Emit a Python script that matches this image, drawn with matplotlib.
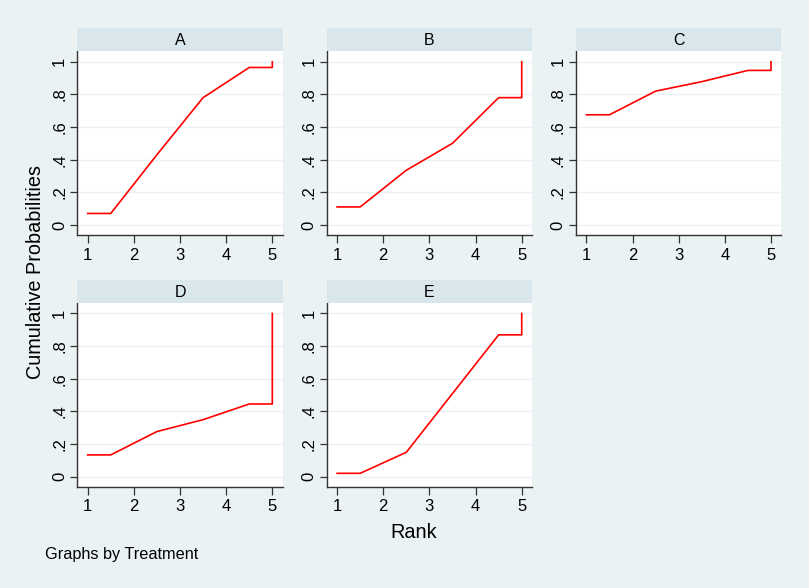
import numpy as np
import matplotlib.pyplot as plt

plt.rcParams['font.family'] = ['Liberation Sans', 'DejaVu Sans']

treatments = ['A', 'B', 'C', 'D', 'E']
ranks = [1, 2, 3, 4, 5]
# cumulative probability of being ranked within the top k
cum_A = [0.07, 0.43, 0.78, 0.965, 1.0]
cum_B = [0.11, 0.335, 0.50, 0.78, 1.0]
cum_C = [0.675, 0.82, 0.878, 0.947, 1.0]
cum_D = [0.133, 0.276, 0.349, 0.445, 1.0]
cum_E = [0.02, 0.149, 0.509, 0.869, 1.0]
series = [cum_A, cum_B, cum_C, cum_D, cum_E]
yticks = [0, 0.2, 0.4, 0.6, 0.8, 1.0]
ytick_labels = ['0', '.2', '.4', '.6', '.8', '1']

bg = '#eaf2f3'
strip_col = '#d9e6eb'
W, H = 809, 588

fig = plt.figure(figsize=(W / 100, H / 100), dpi=100, facecolor=bg)

lefts = [77.3, 326.7, 576.0]
tops = [51.0, 302.7]
pw, ph, sh = 205.4, 184.0, 23.0


def stepped(r, c):
    # Stata-style curve: flat to first midpoint, through midpoints, flat, then jump at last rank
    mids = [(r[i] + r[i + 1]) / 2 for i in range(len(r) - 1)]
    xs = [r[0]] + mids + [r[-1], r[-1]]
    ys = [c[0]] + c[:-1] + [c[-2], c[-1]]
    return xs, ys


for i, (name, cum) in enumerate(zip(treatments, series)):
    row, col = divmod(i, 3)
    x0 = lefts[col] / W
    y0 = (H - tops[row] - ph) / H
    ax = fig.add_axes((x0, y0, pw / W, ph / H))
    ax.set_facecolor('white')
    xs, ys = stepped(ranks, cum)
    ax.plot(xs, ys, color='#ff0000', lw=1.2, zorder=3)
    ax.set_xlim(0.775, 5.225)
    ax.set_ylim(-0.062, 1.066)
    ax.set_xticks(ranks)
    ax.set_yticks(yticks)
    ax.set_yticklabels(ytick_labels, rotation=90, va='center')
    ax.grid(axis='y', color=bg, lw=1.0)
    ax.set_axisbelow(True)
    for s in ['top', 'right']:
        ax.spines[s].set_visible(False)
    for s in ['left', 'bottom']:
        ax.spines[s].set_color('#333333')
        ax.spines[s].set_linewidth(1.0)
    ax.tick_params(axis='y', length=4.8, width=0.9, color='#333333', pad=2.5, labelsize=12)
    ax.tick_params(axis='x', length=5.5, width=0.9, color='#333333', pad=3.5, labelsize=12)

    sax = fig.add_axes((x0, (H - tops[row]) / H, pw / W, sh / H))
    sax.set_facecolor(strip_col)
    sax.set_xticks([])
    sax.set_yticks([])
    for s in sax.spines.values():
        s.set_visible(False)
    sax.text(0.5, 0.45, name, ha='center', va='center', fontsize=11.5, transform=sax.transAxes)

fig.text(36 / W, 1 - 272 / H, 'Cumulative Probabilities', rotation=90, ha='center', va='center', fontsize=14.3)
fig.text(414 / W, 1 - 532 / H, 'Rank', ha='center', va='center', fontsize=14.3)
fig.text(45 / W, 1 - 555 / H, 'Graphs by Treatment', ha='left', va='center', fontsize=11.7)

fig.savefig('out.png', dpi=100, facecolor=bg)
